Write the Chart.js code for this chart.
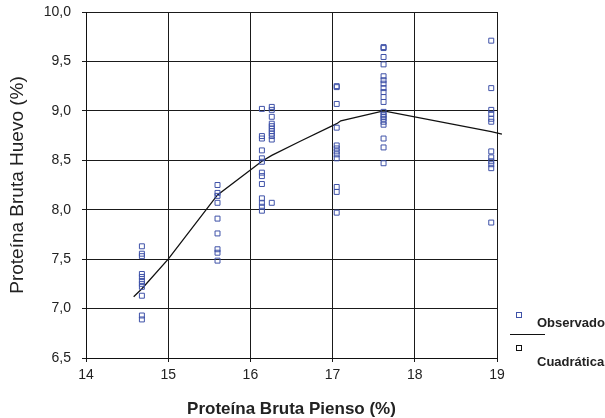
<!DOCTYPE html>
<html>
<head>
<meta charset="utf-8">
<script src="https://cdn.jsdelivr.net/npm/chart.js@4.4.1/dist/chart.umd.min.js"></script>
<style>
  html, body { margin: 0; padding: 0; background: #fff; }
  #wrap { width: 605px; height: 418px; }
</style>
</head>
<body>
<div id="wrap"><canvas id="mycanvas" width="605" height="418"></canvas></div>
<script>
// protein levels of the feed (x) and egg protein observed at each level (y)
var pienso = [14.68, 15.6, 16.14, 16.26, 17.05, 17.62, 18.93];
var huevo1 = [7.63, 7.555, 7.53, 7.35, 7.32, 7.28, 7.25, 7.22, 7.13, 6.93, 6.89];
var huevo2 = [8.25, 8.17, 8.14, 8.07, 7.91, 7.76, 7.60, 7.565, 7.485];
var huevo3 = [9.02, 8.745, 8.72, 8.60, 8.52, 8.485, 8.375, 8.34, 8.26, 8.115, 8.07, 8.03, 7.99];
var huevo4 = [9.04, 9.01, 8.94, 8.87, 8.845, 8.82, 8.795, 8.77, 8.745, 8.71, 8.07];
var huevo5 = [9.25, 9.24, 9.07, 8.83, 8.65, 8.62, 8.59, 8.56, 8.52, 8.23, 8.18, 7.97];
var huevo6 = [9.645, 9.635, 9.545, 9.47, 9.35, 9.31, 9.275, 9.23, 9.19, 9.14, 9.09, 8.99, 8.96, 8.94, 8.92, 8.89, 8.86, 8.72, 8.63, 8.47];
var huevo7 = [9.71, 9.23, 9.01, 8.97, 8.92, 8.89, 8.59, 8.53, 8.49, 8.46, 8.42, 7.87];

// quadratic fit, as drawn
var curvaX = [14.58, 14.68, 15.0, 15.6, 16.14, 16.26, 16.6, 17.05, 17.1, 17.62, 18.93, 19.06];
var curvaY = [7.12, 7.2, 7.5, 8.15, 8.49, 8.55, 8.69, 8.87, 8.9, 9.0, 8.79, 8.765];

var yTicks = [6.5, 7.0, 7.5, 8.0, 8.5, 9.0, 9.5, 10.0];
var xTicks = [14, 15, 16, 17, 18, 19];

var fuente = "'Liberation Sans', Arial, Helvetica, sans-serif";
var azul = '#3f52a8';

var columnas = [huevo1, huevo2, huevo3, huevo4, huevo5, huevo6, huevo7];
var observado = [];
for (var i in columnas) {
    for (var j in columnas[i]) {
        observado.push({x: pienso[i], y: columnas[i][j]});
    }
}
var curva = [];
for (var k in curvaX) {
    curva.push({x: curvaX[k], y: curvaY[k]});
}

// legend in the Excel style: marker, a line, marker
var leyenda = {
    id: 'leyenda',
    afterDraw: function (chart) {
        var ctx = chart.ctx;
        ctx.save();
        ctx.lineWidth = 1;
        ctx.strokeStyle = azul;
        ctx.strokeRect(516.5, 312.5, 5, 5);
        ctx.strokeStyle = '#111';
        ctx.strokeRect(516.5, 345.5, 5, 5);
        ctx.beginPath();
        ctx.moveTo(510, 334.5);
        ctx.lineTo(545, 334.5);
        ctx.stroke();
        ctx.fillStyle = '#222';
        ctx.font = 'bold 13px ' + fuente;
        ctx.textBaseline = 'middle';
        ctx.fillText('Observado', 537, 323);
        ctx.fillText('Cuadrática', 537, 362);
        ctx.restore();
    }
};

var ctx = document.getElementById('mycanvas');
var mycanvas = new Chart(ctx, {
    type: 'scatter',
    data: {
        datasets: [
            {
                label: 'Observado',
                data: observado,
                pointStyle: 'rect',
                pointRadius: 3.5,
                pointBorderWidth: 1,
                borderColor: azul,
                backgroundColor: 'rgba(0,0,0,0)'
            },
            {
                label: 'Cuadrática',
                data: curva,
                showLine: true,
                borderColor: '#111',
                borderWidth: 1.3,
                pointRadius: 0,
                tension: 0,
                clip: false
            }
        ]
    },
    options: {
        responsive: false,
        animation: false,
        layout: { padding: { top: 12, right: 108, left: 0, bottom: 0 } },
        plugins: {
            legend: { display: false },
            tooltip: { enabled: false }
        },
        scales: {
            x: {
                type: 'linear',
                min: 14,
                max: 19,
                afterBuildTicks: function (scale) {
                    scale.ticks = xTicks.map(function (v) { return {value: v}; });
                },
                afterFit: function (scale) { scale.height = 60; },
                grid: { color: '#1a1a1a', tickLength: 4, lineWidth: 1 },
                border: { color: '#111' },
                ticks: {
                    color: '#222',
                    padding: 5,
                    font: { family: fuente, size: 14 }
                },
                title: {
                    display: true,
                    text: 'Proteína Bruta Pienso (%)',
                    color: '#222',
                    padding: { top: 0, bottom: 0 },
                    font: { family: fuente, size: 17, weight: 'bold', lineHeight: 1 }
                }
            },
            y: {
                min: 6.5,
                max: 10,
                afterBuildTicks: function (scale) {
                    scale.ticks = yTicks.map(function (v) { return {value: v}; });
                },
                afterFit: function (scale) {
                    scale.width = 86;
                    scale.paddingTop = 0;
                    scale.paddingBottom = 0;
                },
                grid: { color: '#1a1a1a', tickLength: 4, lineWidth: 1 },
                border: { color: '#111' },
                ticks: {
                    color: '#222',
                    padding: 11,
                    font: { family: fuente, size: 14 },
                    callback: function (v) { return v.toFixed(1).replace('.', ','); }
                },
                title: {
                    display: true,
                    text: 'Proteína Bruta Huevo (%)',
                    color: '#222',
                    padding: { top: 8, bottom: 0 },
                    font: { family: fuente, size: 19, lineHeight: 1 }
                }
            }
        }
    },
    plugins: [leyenda]
});
</script>
</body>
</html>
